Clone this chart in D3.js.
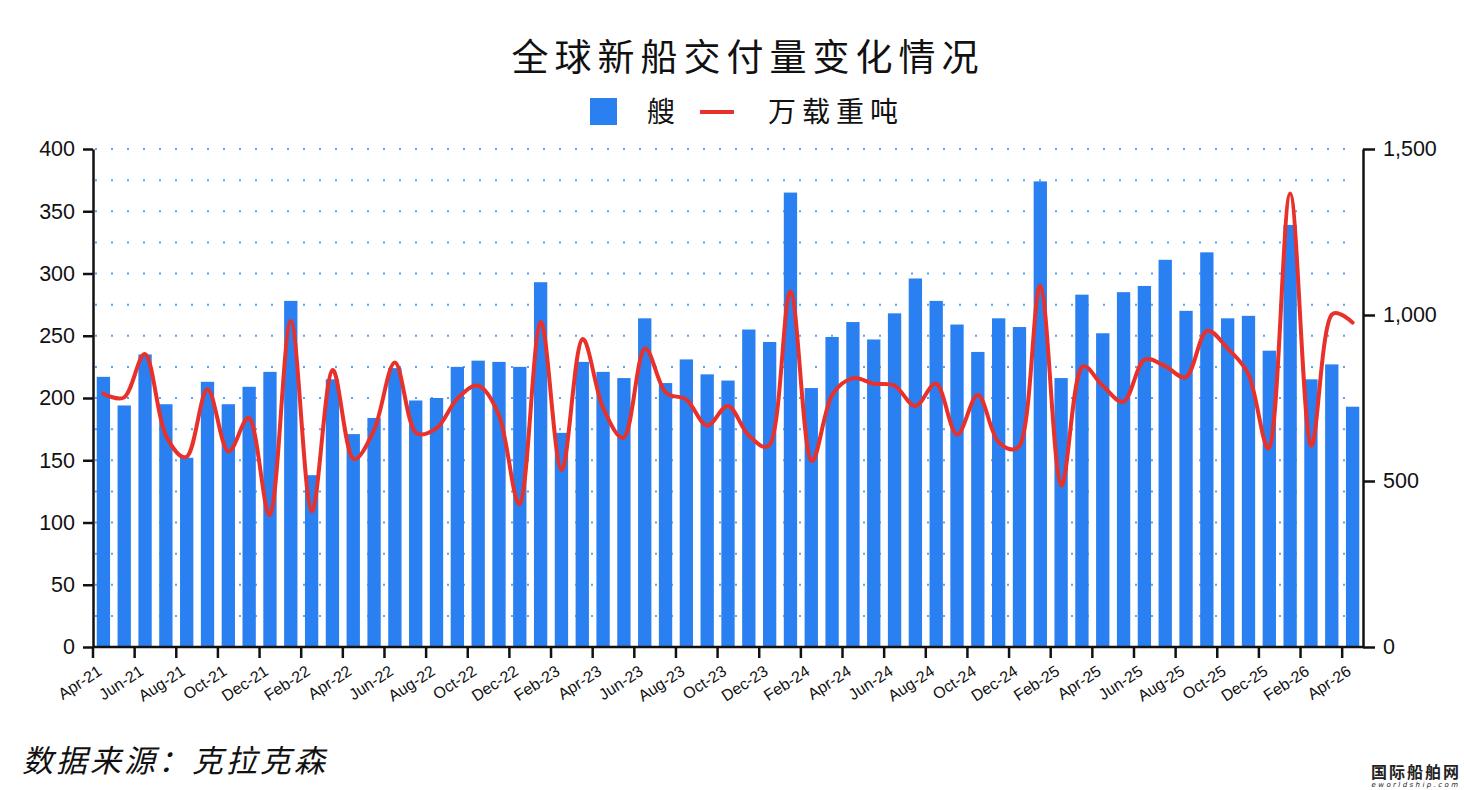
<!DOCTYPE html>
<html>
<head>
<meta charset="utf-8">
<title>全球新船交付量变化情况</title>
<script src="https://cdn.jsdelivr.net/npm/d3@7"></script>
<style>
  html, body { margin: 0; padding: 0; background: #fff; }
  svg { display: block; }
  .axis text { font-family: "Liberation Sans", Arial, sans-serif; fill: #111; }
  .axis path, .axis line { stroke: #111; stroke-width: 2.5px; }
  .cjk { font-family: "Noto Sans CJK SC", sans-serif; fill: #111; }
</style>
</head>
<body>
<svg id="chart" width="1464" height="790"></svg>
<script>
// months Apr-21 .. Apr-26
var months = ['Apr-21','May-21','Jun-21','Jul-21','Aug-21','Sep-21','Oct-21','Nov-21','Dec-21',
  'Jan-22','Feb-22','Mar-22','Apr-22','May-22','Jun-22','Jul-22','Aug-22','Sep-22','Oct-22','Nov-22','Dec-22',
  'Jan-23','Feb-23','Mar-23','Apr-23','May-23','Jun-23','Jul-23','Aug-23','Sep-23','Oct-23','Nov-23','Dec-23',
  'Jan-24','Feb-24','Mar-24','Apr-24','May-24','Jun-24','Jul-24','Aug-24','Sep-24','Oct-24','Nov-24','Dec-24',
  'Jan-25','Feb-25','Mar-25','Apr-25','May-25','Jun-25','Jul-25','Aug-25','Sep-25','Oct-25','Nov-25','Dec-25',
  'Jan-26','Feb-26','Mar-26','Apr-26'];

// 艘 (left axis)
var ships = [217,194,235,195,152,213,195,209,221,
  278,138,215,171,184,224,198,200,225,230,229,225,
  293,172,229,221,216,264,212,231,219,214,255,245,
  365,208,249,261,247,268,296,278,259,237,264,257,
  374,216,283,252,285,290,311,270,317,264,266,238,
  339,215,227,193];

// 万载重吨 (right axis)
var dwt = [763,752,882,637,573,776,589,690,398,
  982,409,834,567,654,857,646,659,748,787,698,431,
  979,533,927,720,631,899,767,745,667,726,637,609,
  1071,561,759,810,793,787,726,793,640,759,617,606,
  1088,487,843,787,739,865,846,813,952,899,821,600,
  1366,607,1001,977];

var leftTicks = [0,50,100,150,200,250,300,350,400];
var rightTicks = [0,500,1000,1500];
var gridValues = d3.range(25, 401, 25);

var svg = d3.select('#chart');
var x0 = 93, x1 = 1363, yTop = 149, yBot = 647;

var x = d3.scaleBand().domain(months).range([x0, x1]).paddingInner(0.36).paddingOuter(0.18);
var yL = d3.scaleLinear().domain([0, 400]).range([yBot, yTop]);
var yR = d3.scaleLinear().domain([0, 1500]).range([yBot, yTop]);

svg.append('rect').attr('width', 1464).attr('height', 790).attr('fill', '#fff');

// dotted gridlines
svg.append('g').selectAll('line').data(gridValues).enter().append('line')
  .attr('x1', x0 + 2).attr('x2', x1 - 4)
  .attr('y1', function (d) { return yL(d); }).attr('y2', function (d) { return yL(d); })
  .attr('stroke', '#5aa2f5').attr('stroke-width', 2)
  .attr('stroke-dasharray', '2,14');

// bars
svg.append('g').selectAll('rect').data(ships).enter().append('rect')
  .attr('x', function (d, i) { return x(months[i]); })
  .attr('width', x.bandwidth())
  .attr('y', function (d) { return yL(d); })
  .attr('height', function (d) { return yBot - yL(d); })
  .attr('fill', '#2a80f1');

// line
var line = d3.line()
  .x(function (d, i) { return x(months[i]) + x.bandwidth() / 2; })
  .y(function (d) { return yR(d); })
  .curve(d3.curveCatmullRom.alpha(0.35));
svg.append('path').datum(dwt).attr('d', line)
  .attr('fill', 'none').attr('stroke', '#e8312b').attr('stroke-width', 4)
  .attr('stroke-linejoin', 'round').attr('stroke-linecap', 'round');

// left axis
var gl = svg.append('g').attr('class', 'axis').attr('transform', 'translate(' + x0 + ',0)')
  .call(d3.axisLeft(yL).tickValues(leftTicks).tickSize(10).tickPadding(8).tickSizeOuter(0));
gl.selectAll('text').style('font-size', '21.5px');

// right axis
var gr = svg.append('g').attr('class', 'axis').attr('transform', 'translate(' + x1 + ',0)')
  .call(d3.axisRight(yR).tickValues(rightTicks).tickSize(12).tickPadding(8).tickSizeOuter(0)
    .tickFormat(d3.format(',')));
gr.selectAll('text').style('font-size', '21.5px');

// bottom axis: ticks at left edge of every other month
var xs = d3.scaleLinear().domain([0, months.length]).range([x0, x1]);
var tickIdx = d3.range(0, months.length, 2);
var gb = svg.append('g').attr('class', 'axis');
gb.append('line').attr('x1', x0).attr('x2', x1).attr('y1', yBot).attr('y2', yBot);
gb.selectAll('.tk').data(tickIdx).enter().append('line')
  .attr('x1', function (i) { return xs(i); }).attr('x2', function (i) { return xs(i); })
  .attr('y1', yBot).attr('y2', yBot + 11);
gb.selectAll('text').data(tickIdx).enter().append('text')
  .attr('transform', function (i) { return 'translate(' + (xs(i) + 10) + ',' + (yBot + 27) + ') rotate(-33)'; })
  .attr('text-anchor', 'end')
  .style('font-size', '16px')
  .text(function (i) { return months[i]; });

// title
svg.append('text').attr('class', 'cjk').attr('x', 748).attr('y', 71)
  .attr('text-anchor', 'middle').style('font-size', '37px').style('letter-spacing', '6px')
  .text('全球新船交付量变化情况');

// legend
svg.append('rect').attr('x', 590).attr('y', 98).attr('width', 27).attr('height', 27).attr('fill', '#2a80f1');
svg.append('text').attr('class', 'cjk').attr('x', 647).attr('y', 122).style('font-size', '28px').text('艘');
svg.append('line').attr('x1', 700).attr('x2', 734).attr('y1', 112).attr('y2', 112)
  .attr('stroke', '#e8312b').attr('stroke-width', 4);
svg.append('text').attr('class', 'cjk').attr('x', 768).attr('y', 122)
  .style('font-size', '28px').style('letter-spacing', '6px').text('万载重吨');

// source
svg.append('text').attr('class', 'cjk').attr('x', 22).attr('y', 772)
  .style('font-size', '31px').style('font-style', 'italic').style('letter-spacing', '3px')
  .text('数据来源：克拉克森');

// watermark
svg.append('text').attr('class', 'cjk').attr('x', 1416).attr('y', 778).attr('text-anchor', 'middle')
  .style('font-size', '16px').style('font-weight', 'bold').style('letter-spacing', '2px').style('fill', '#222')
  .text('国际船舶网');
svg.append('text').attr('x', 1416).attr('y', 787).attr('text-anchor', 'middle')
  .style('font-family', 'DejaVu Sans, sans-serif').style('font-size', '7px').style('font-style', 'italic')
  .style('letter-spacing', '2.4px').style('fill', '#222')
  .text('eworldship.com');
</script>
</body>
</html>
